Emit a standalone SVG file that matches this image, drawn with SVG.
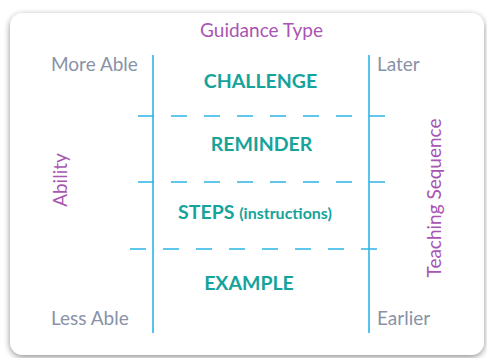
<svg xmlns="http://www.w3.org/2000/svg" width="487" height="358" viewBox="0 0 487 358">
<defs>
<filter id="sh" x="-10%" y="-10%" width="120%" height="120%">
<feGaussianBlur in="SourceAlpha" stdDeviation="3"/>
<feOffset dx="0" dy="1.5" result="b"/>
<feComponentTransfer><feFuncA type="linear" slope="0.45"/></feComponentTransfer>
<feMerge><feMergeNode/><feMergeNode in="SourceGraphic"/></feMerge>
</filter>
<style>
.ax{font-family:Lato,"Open Sans","Liberation Sans",sans-serif;font-size:19px;fill:#a955b3}
.lb{font-family:Lato,"Open Sans","Liberation Sans",sans-serif;font-size:19px;fill:#8992a7}
.gt{font-family:Lato,"Open Sans","Liberation Sans",sans-serif;font-size:19.5px;font-weight:bold;fill:#16a39c;text-anchor:middle}
.sm{font-size:16px}
.v{stroke:#2bb5e6;stroke-width:1.6;fill:none}
.d{stroke:#2bb5e6;stroke-width:1.6;fill:none;stroke-dasharray:16 17}
</style>
</defs>
<rect width="487" height="358" fill="#ffffff"/>
<rect id="card" x="10" y="13" width="474" height="342" rx="13" fill="#ffffff" filter="url(#sh)"/>
<g id="connectors">
<line class="v" x1="153" y1="55" x2="153" y2="333"/>
<line class="v" x1="369" y1="55" x2="369" y2="333"/>
<line class="d" x1="138" y1="116" x2="386" y2="116"/>
<line class="d" x1="138" y1="182" x2="386" y2="182"/>
<line class="d" x1="130" y1="249" x2="378" y2="249"/>
</g>
<g id="axis-guidance"><text class="ax" x="261.5" y="37" text-anchor="middle">Guidance Type</text></g>
<g id="axis-ability"><text class="ax" transform="translate(67,180) rotate(-90)" text-anchor="middle">Ability</text></g>
<g id="axis-teaching"><text class="ax" transform="translate(441,198) rotate(-90)" text-anchor="middle">Teaching Sequence</text></g>
<g id="label-more"><text class="lb" x="51" y="71">More Able</text></g>
<g id="label-less"><text class="lb" x="51" y="325">Less Able</text></g>
<g id="label-later"><text class="lb" x="377" y="71">Later</text></g>
<g id="label-earlier"><text class="lb" x="377" y="325">Earlier</text></g>
<g id="challenge"><text class="gt" x="260.5" y="88">CHALLENGE</text></g>
<g id="reminder"><text class="gt" x="261.5" y="151">REMINDER</text></g>
<g id="steps"><text class="gt" x="255" y="219">STEPS <tspan class="sm">(instructions)</tspan></text></g>
<g id="example"><text class="gt" x="249" y="290">EXAMPLE</text></g>
</svg>
